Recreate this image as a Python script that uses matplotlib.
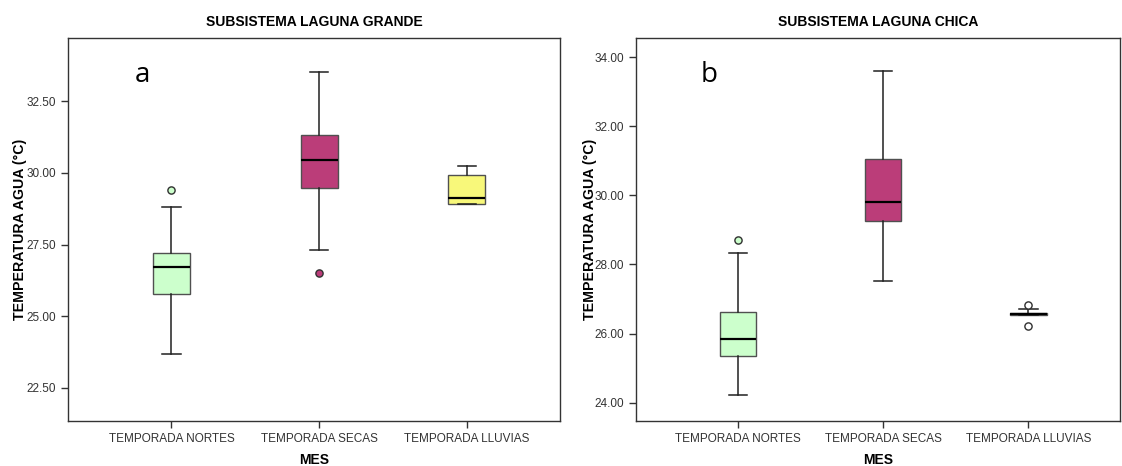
import matplotlib
matplotlib.use("Agg")
import matplotlib.pyplot as plt

plt.rcParams['font.family'] = ['Liberation Sans', 'DejaVu Sans']

categories = ["TEMPORADA NORTES", "TEMPORADA SECAS", "TEMPORADA LLUVIAS"]
colors = ["#ccffcc", "#bb3d79", "#f8f87a"]

# Laguna Grande: whislo, q1, med, q3, whishi, outliers
grande_whislo = [23.70, 27.31, 28.92]
grande_q1 = [25.76, 29.46, 28.92]
grande_med = [26.71, 30.45, 29.11]
grande_q3 = [27.21, 31.30, 29.92]
grande_whishi = [28.81, 33.50, 30.22]
grande_fliers = [[29.41], [26.50], []]

# Laguna Chica
chica_whislo = [24.23, 27.52, 26.53]
chica_q1 = [25.34, 29.27, 26.53]
chica_med = [25.83, 29.82, 26.57]
chica_q3 = [26.63, 31.06, 26.61]
chica_whishi = [28.32, 33.60, 26.72]
chica_fliers = [[28.72], [], [26.84, 26.23]]

grande_yticks = [22.5, 25.0, 27.5, 30.0, 32.5]
chica_yticks = [24.0, 26.0, 28.0, 30.0, 32.0, 34.0]

fig = plt.figure(figsize=(11.22, 4.66), dpi=100)
ax1 = fig.add_axes([0.0606, 0.0966, 0.4385, 0.8214])
ax2 = fig.add_axes([0.5668, 0.0966, 0.4315, 0.8214])

flier_faces = {
    'grande': ["#ccffcc", "#bb3d79", "white"],
    'chica': ["#ccffcc", "#bb3d79", "white"],
}

def draw(ax, wl, q1, med, q3, wh, fl, title, yticks, ylim, faces):
    stats = []
    for i in range(3):
        stats.append(dict(whislo=wl[i], q1=q1[i], med=med[i], q3=q3[i],
                          whishi=wh[i], fliers=fl[i], label=categories[i]))
    bp = ax.bxp(stats, positions=[1, 2, 3], widths=0.25, patch_artist=True,
                showfliers=False,
                boxprops=dict(edgecolor="#505050", linewidth=1.0),
                medianprops=dict(color="black", linewidth=1.6),
                whiskerprops=dict(color="#202020", linewidth=1.1),
                capprops=dict(color="#202020", linewidth=1.1),
                capwidths=0.125)
    for patch, c in zip(bp['boxes'], colors):
        patch.set_facecolor(c)
    for i in range(3):
        if fl[i]:
            ax.plot([i + 1] * len(fl[i]), fl[i], 'o', markersize=5.2,
                    markerfacecolor=faces[i], markeredgecolor="#303030",
                    markeredgewidth=1.0, zorder=5)
    ax.set_xlim(0.3, 3.63)
    ax.set_ylim(*ylim)
    ax.set_yticks(yticks)
    ax.set_yticklabels([f"{v:.2f}" for v in yticks], fontsize=8.5, color="#333333")
    ax.set_xticks([1, 2, 3])
    ax.set_xticklabels(categories, fontsize=8.5, color="#333333")
    ax.tick_params(axis='both', direction='out', length=5, width=1.0, color="#333333")
    ax.tick_params(axis='x', pad=4)
    for s in ax.spines.values():
        s.set_color("#333333")
        s.set_linewidth(1.0)
    ax.set_title(title, fontsize=10, fontweight='bold', pad=9)
    ax.set_xlabel("MES", fontsize=10, fontweight='bold')
    ax.set_ylabel("TEMPERATURA AGUA (°C)", fontsize=10.2, fontweight='bold')
    return ax

draw(ax1, grande_whislo, grande_q1, grande_med, grande_q3, grande_whishi,
     grande_fliers, "SUBSISTEMA LAGUNA GRANDE", grande_yticks, (21.35, 34.69),
     flier_faces['grande'])
draw(ax2, chica_whislo, chica_q1, chica_med, chica_q3, chica_whishi,
     chica_fliers, "SUBSISTEMA LAGUNA CHICA", chica_yticks, (23.47, 34.55),
     flier_faces['chica'])

ax1.yaxis.set_label_coords(-0.083, 0.5)
ax2.yaxis.set_label_coords(-0.081, 0.5)
ax1.xaxis.set_label_coords(0.5, -0.083)
ax2.xaxis.set_label_coords(0.5, -0.083)

for ax, label in [(ax1, "a"), (ax2, "b")]:
    ax.text(0.152, 0.905, label, transform=ax.transAxes, fontsize=20,
            family=['Open Sans', 'DejaVu Sans'], va='center', ha='center')

fig.savefig("out.png", dpi=100)
